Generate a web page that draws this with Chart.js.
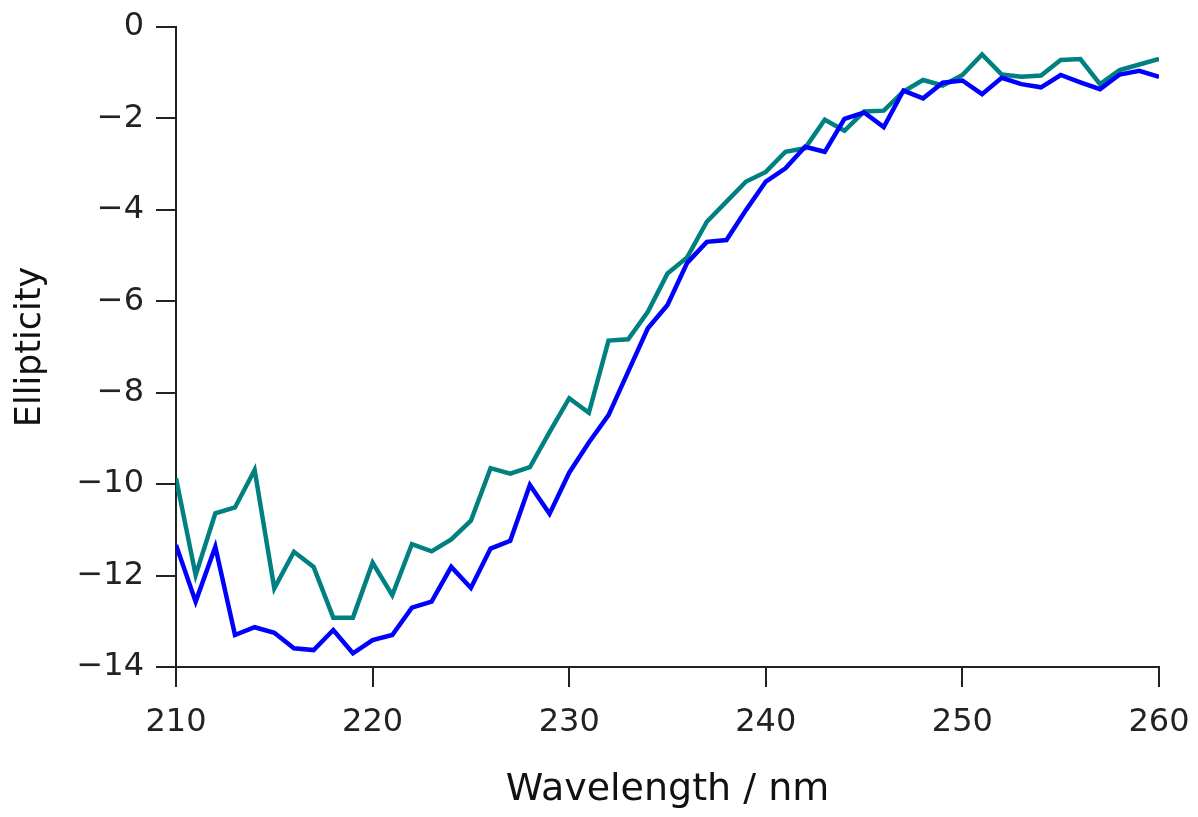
<!DOCTYPE html>
<html>
<head>
<meta charset="utf-8">
<script src="https://cdn.jsdelivr.net/npm/chart.js@4"></script>
<style>
  html, body { margin: 0; padding: 0; background: #fff; }
  #wrap { width: 1198px; height: 817px; }
</style>
</head>
<body>
<div id="wrap"><canvas id="cd"></canvas></div>
<script>
// wavelength (nm)
const wavelengths = [210, 211, 212, 213, 214, 215, 216, 217, 218, 219,
	220, 221, 222, 223, 224, 225, 226, 227, 228, 229,
	230, 231, 232, 233, 234, 235, 236, 237, 238, 239,
	240, 241, 242, 243, 244, 245, 246, 247, 248, 249,
	250, 251, 252, 253, 254, 255, 256, 257, 258, 259, 260];

// teal trace
const tealValues = [-9.87, -11.99, -10.64, -10.51, -9.69, -12.28, -11.48, -11.81, -12.92, -12.92,
	-11.72, -12.43, -11.31, -11.47, -11.21, -10.80, -9.65, -9.77, -9.63, -8.86,
	-8.12, -8.44, -6.86, -6.83, -6.23, -5.39, -5.04, -4.26, -3.82, -3.38,
	-3.17, -2.73, -2.65, -2.03, -2.27, -1.85, -1.83, -1.41, -1.16, -1.28,
	-1.05, -0.60, -1.04, -1.09, -1.06, -0.72, -0.70, -1.25, -0.94, -0.82, -0.70];

// blue trace
const blueValues = [-11.33, -12.57, -11.37, -13.30, -13.13, -13.25, -13.59, -13.63, -13.19, -13.70,
	-13.41, -13.30, -12.70, -12.57, -11.81, -12.27, -11.41, -11.24, -10.02, -10.65,
	-9.75, -9.09, -8.49, -7.54, -6.59, -6.08, -5.16, -4.70, -4.66, -4.00,
	-3.38, -3.09, -2.62, -2.73, -2.01, -1.87, -2.19, -1.39, -1.56, -1.22,
	-1.17, -1.47, -1.11, -1.25, -1.32, -1.05, -1.21, -1.36, -1.04, -0.96, -1.09];

const xTicks = [210, 220, 230, 240, 250, 260];
const yTicks = [0, -2, -4, -6, -8, -10, -12, -14];

const FONT = '"DejaVu Sans", sans-serif';
const INK = '#222';

const toPoints = vals => vals.map((v, i) => ({ x: wavelengths[i], y: v }));

const data_cd = {
	datasets: [{
		label: 'teal',
		data: toPoints(tealValues),
		borderColor: '#008080',
		borderWidth: 4.5,
		order: 1
	}, {
		label: 'blue',
		data: toPoints(blueValues),
		borderColor: '#0000ff',
		borderWidth: 4.5,
		order: 0
	}]
};

const axisGrid = {
	drawOnChartArea: false,
	drawTicks: true,
	tickLength: 20,
	color: INK,
	lineWidth: 2
};

const config_cd = {
	type: 'line',
	data: data_cd,
	options: {
		responsive: true,
		maintainAspectRatio: false,
		animation: false,
		layout: { padding: { top: 27, right: 39, left: 0, bottom: 0 } },
		elements: {
			point: { radius: 0 },
			line: { tension: 0, fill: false }
		},
		plugins: {
			legend: { display: false },
			tooltip: { enabled: false }
		},
		scales: {
			x: {
				type: 'linear',
				min: 210,
				max: 260,
				afterFit: s => { s.height = 150; s.paddingLeft = 0; s.paddingRight = 0; },
				afterBuildTicks: s => { s.ticks = xTicks.map(v => ({ value: v })); },
				border: { color: INK, width: 2 },
				grid: axisGrid,
				ticks: {
					padding: 16,
					color: INK,
					font: { family: FONT, size: 32 },
					maxRotation: 0
				},
				title: {
					display: true,
					text: 'Wavelength / nm',
					color: '#111',
					font: { family: FONT, size: 38 },
					padding: { top: 0, bottom: 4 }
				}
			},
			y: {
				type: 'linear',
				min: -14,
				max: 0,
				afterFit: s => { s.width = 176; s.paddingTop = 0; s.paddingBottom = 0; },
				afterBuildTicks: s => { s.ticks = yTicks.map(v => ({ value: v })); },
				border: { color: INK, width: 2 },
				grid: axisGrid,
				ticks: {
					padding: 12,
					color: INK,
					font: { family: FONT, size: 32 },
					callback: v => (v < 0 ? '\u2212' + Math.abs(v) : String(v))
				},
				title: {
					display: true,
					text: 'Ellipticity',
					color: '#111',
					font: { family: FONT, size: 35 },
					padding: { top: 10, bottom: 0 }
				}
			}
		}
	}
};

const cd = new Chart(document.getElementById('cd'), config_cd);
</script>
</body>
</html>
